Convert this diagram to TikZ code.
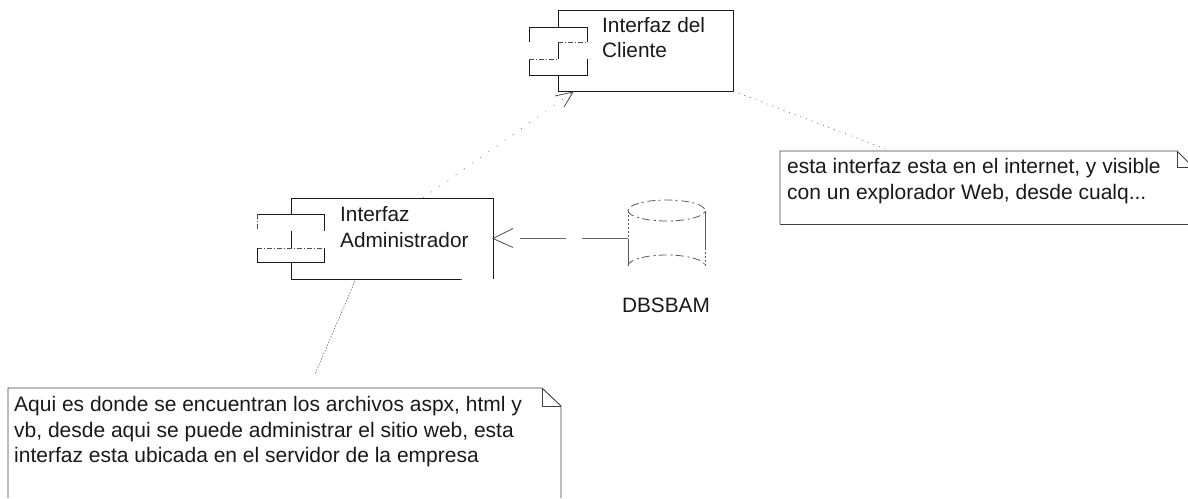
\documentclass[tikz,border=0pt]{standalone}
\usepackage{fontspec}
\setmainfont{Liberation Sans}
\usetikzlibrary{calc}
\tikzset{
  x=1pt,y=-1pt,
  solidline/.style={draw=black!90,line width=1pt},
  faintline/.style={draw=black!70,line width=0.8pt,dash pattern=on 5pt off 2pt on 1pt off 2pt},
  notebox/.style={draw=black!75,line width=0.9pt},
  anchorbox/.style={inner sep=0pt,outer sep=0pt},
  lab/.style={anchor=base west,inner sep=0pt,font=\fontsize{20.8pt}{24pt}\selectfont,text=black!90},
  notelab/.style={lab,font=\fontsize{21pt}{24pt}\selectfont},
  sparselink/.style={draw=black!55,line width=0.6pt,dash pattern=on 1pt off 9pt},
  notelink/.style={draw=black!60,line width=0.6pt,dash pattern=on 1.5pt off 1.5pt},
  deplink/.style={draw=black!60,line width=0.9pt,dash pattern=on 46pt off 16pt on 46pt off 200pt},
  barb/.style={draw=black!70,line width=0.8pt},
  cyl/.style={draw=black!65,line width=0.8pt}
}
\begin{document}
\begin{tikzpicture}
\useasboundingbox (0,0) rectangle (1188,498);
% named frames (give the connectors their anchors)
\node[anchorbox,minimum width=175pt,minimum height=81pt] (cli) at (645.5,50.5) {};
\node[anchorbox,minimum width=202pt,minimum height=81pt] (adm) at (392,238.5) {};
\node[anchorbox,minimum width=77pt,minimum height=77pt] (db) at (666.5,238.5) {};
\node[anchorbox,minimum width=408pt,minimum height=73pt] (noteA) at (984,187.5) {};
\node[anchorbox,minimum width=553pt,minimum height=111pt] (noteB) at (284.5,442.5) {};
% Interfaz del Cliente
\draw[solidline] (558,27)--(558,10)--(733,10)--(733,91)--(558,91)--(558,75);
\draw[solidline] (558,42)--(558,59);
\draw[solidline] (529,42)--(529,27)--(587,27)--(587,42);
\draw[faintline] (558,42)--(587,42);
\draw[faintline] (529,59)--(558,59);
\draw[solidline] (587,59)--(587,75)--(529,75)--(529,60);
\node[lab] at (602,32) {Interfaz del};
\node[lab] at (602,57) {Cliente};
% Interfaz Administrador
\draw[solidline] (291,214)--(291,198)--(493,198)--(493,279);
\draw[solidline] (460,279)--(291,279)--(291,262);
\draw[faintline] (460,279)--(462,279);
\draw[solidline] (291,231)--(291,248);
\draw[solidline] (257,214)--(324,214)--(324,231);
\draw[faintline] (257,214)--(257,230);
\draw[faintline] (257,248)--(324,248);
\draw[solidline] (257,248)--(257,262)--(324,262)--(324,248);
\node[lab] at (340,221) {Interfaz};
\node[lab] at (340,247) {Administrador};
% DBSBAM
\draw[cyl,dash pattern=on 8pt off 4pt on 2pt off 3pt] (db.north west |- 0,210.5) arc (180:-180:38.5 and 10.5);
\draw[cyl,dash pattern=on 2pt off 2pt] (628,210.5)--(628,239);
\draw[cyl] (628,239)--(628,266);
\draw[cyl,dash pattern=on 8pt off 4pt on 2pt off 3pt] (628,266) arc (180:360:38.5 and 11);
\draw[cyl] (705,210.5)--(705,248);
\draw[cyl,dash pattern=on 2pt off 2pt] (705,248)--(705,266);
\node[lab,anchor=base] at (666,312) {DBSBAM};
% Notes
\draw[notebox] (780,224)--(780,151)--(1177,151)--(1188,162);
\draw[notebox] (1177,151)--(1177,167)--(1188,167);
\draw[notebox] (780,224)--(1188,224);
\node[notelab] at (787,173) {esta interfaz esta en el internet, y visible};
\node[notelab] at (787,199) {con un explorador Web, desde cualq...};
\draw[notebox] (8,498)--(8,388)--(542,388)--(561,406)--(561,498);
\draw[notebox] (542,388)--(542,406)--(561,406);
\node[notelab] at (14,411) {Aqui es donde se encuentran los archivos aspx, html y};
\node[notelab] at (14,437) {vb, desde aqui se puede administrar el sitio web, esta};
\node[notelab] at (14,462) {interfaz esta ubicada en el servidor de la empresa};
% connectors
\coordinate (cliTip) at ($(cli.south)+(-72.5,1)$);
\coordinate (admTop) at ($(adm.north)+(31,0)$);
\draw[sparselink] (admTop)--(cliTip);
\draw[barb] (555,96)--(cliTip)--(564,107);
\draw[notelink,dash pattern=on 1pt off 5pt] (cli.south east)--($(noteA.north west)+(108,-1)$);
\draw[notelink] ($(adm.south)+(-37,2)$)--($(noteB.north west)+(307,-13)$);
\draw[deplink] (db.west)--(adm.east);
\draw[barb] ($(adm.east)+(20,-10)$)--(adm.east)--($(adm.east)+(20,9)$);
\end{tikzpicture}
\end{document}
